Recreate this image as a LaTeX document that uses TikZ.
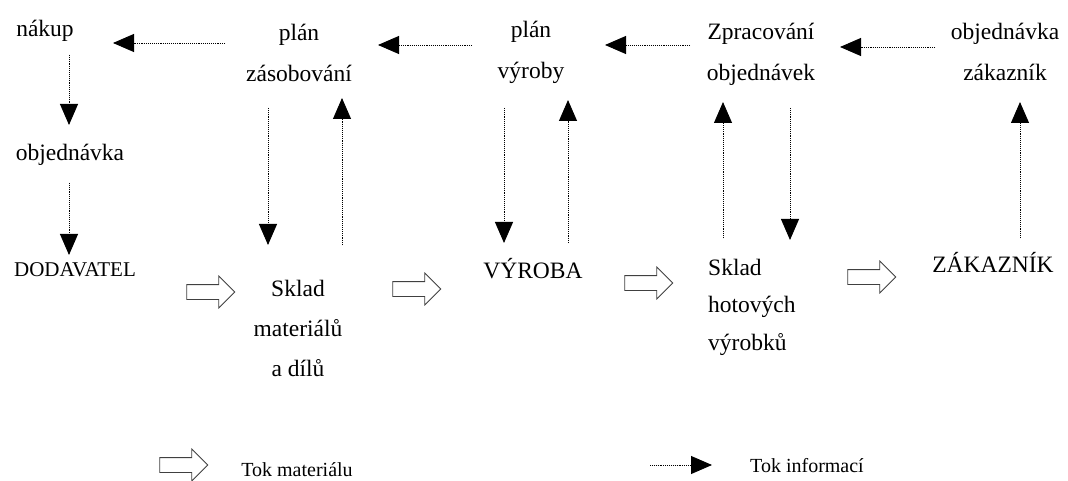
\documentclass[tikz,border=0pt]{standalone}
\usepackage{fontspec}
\setmainfont{Liberation Serif}
\usetikzlibrary{arrows.meta,shapes.arrows}
\begin{document}
\begin{tikzpicture}[x=1pt,y=-1pt,
  txt/.style={font=\fontsize{23.5}{41}\selectfont, align=center, inner sep=0pt},
  small/.style={font=\fontsize{20}{24}\selectfont, inner sep=0pt},
  info/.style={densely dotted, line width=0.9pt, -{Triangle[length=21pt,width=18pt]}},
  mat/.style={draw=black!75, single arrow, minimum height=48pt,
    inner xsep=0pt, inner ysep=7pt, text height=0pt, text depth=0pt, text width=0pt,
    single arrow head extend=8.5pt, single arrow head indent=0pt, line width=0.8pt}
]
\useasboundingbox (0,0) rectangle (1068,481);
% text nodes
\node[txt] (nakup) at (45,31) {nákup};
\node[txt] (plz) at (299,53) {plán\\zásobování};
\node[txt] (plv) at (531,52) {plán\\výroby};
\node[txt] (zpr) at (761,54) {Zpracování\\objednávek};
\node[txt] (objz) at (1005,52) {objednávka\\zákazník};
\node[txt] (objl) at (70,155) {objednávka};
\node[small, font=\fontsize{21}{24}\selectfont] (dod) at (75,270) {DODAVATEL};
\node[txt, font=\fontsize{23.5}{40}\selectfont] (skm) at (298,328) {Sklad\\materiálů\\a dílů};
\node[txt] (vyr) at (533,269) {VÝROBA};
\node[txt, align=left, anchor=west, font=\fontsize{23.5}{37.5}\selectfont] (skh) at (708,307) {Sklad\\hotových\\výrobků};
\node[txt] (zak) at (993,262) {ZÁKAZNÍK};
% material flow arrows
\node[mat] (m1) at (207,292) {};
\node[mat] (m2) at (413,289) {};
\node[mat] (m3) at (645,283) {};
\node[mat] (m4) at (868,277) {};
% info flow coordinates
\coordinate (a1s) at (225,43); \coordinate (a1e) at (113,43);
\coordinate (a2s) at (472,45); \coordinate (a2e) at (378,45);
\coordinate (a3s) at (690,45); \coordinate (a3e) at (605,45);
\coordinate (a4s) at (935,47); \coordinate (a4e) at (840,47);
\coordinate (v1s) at (69,55);  \coordinate (v1e) at (69,125);
\coordinate (v2s) at (69,183); \coordinate (v2e) at (69,255);
\coordinate (v3s) at (268,108); \coordinate (v3e) at (268,245);
\coordinate (v4s) at (342,245); \coordinate (v4e) at (342,98);
\coordinate (v5s) at (504,108); \coordinate (v5e) at (504,243);
\coordinate (v6s) at (568,243); \coordinate (v6e) at (568,100);
\coordinate (v7s) at (723,238); \coordinate (v7e) at (723,102);
\coordinate (v8s) at (790,108); \coordinate (v8e) at (790,240);
\coordinate (v9s) at (1020,238); \coordinate (v9e) at (1020,102);
\draw[info] (a1s) -- (a1e);
\draw[info] (a2s) -- (a2e);
\draw[info] (a3s) -- (a3e);
\draw[info] (a4s) -- (a4e);
\draw[info] (v1s) -- (v1e);
\draw[info] (v2s) -- (v2e);
\draw[info] (v3s) -- (v3e);
\draw[info] (v4s) -- (v4e);
\draw[info] (v5s) -- (v5e);
\draw[info] (v6s) -- (v6e);
\draw[info] (v7s) -- (v7e);
\draw[info] (v8s) -- (v8e);
\draw[info] (v9s) -- (v9e);
% legend
\node[mat] (lm) at (180,465) {};
\node[small] (lt1) at (297,470) {Tok materiálu};
\coordinate (lis) at (650,465); \coordinate (lie) at (712,465);
\draw[info] (lis) -- (lie);
\node[small] (lt2) at (807,466) {Tok informací};
\end{tikzpicture}
\end{document}
